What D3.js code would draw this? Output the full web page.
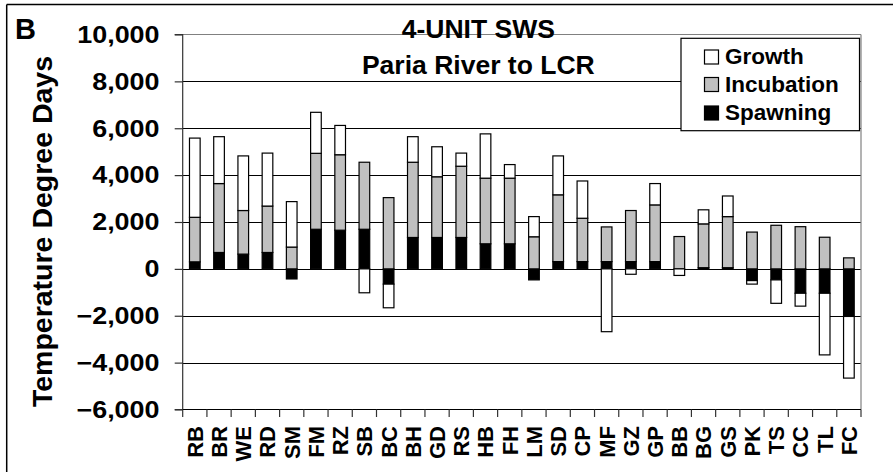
<!DOCTYPE html>
<html>
<head>
<meta charset="utf-8">
<script src="https://cdn.jsdelivr.net/npm/d3@7"></script>
<style>
  html, body { margin: 0; padding: 0; background: #fff; }
  svg { display: block; }
  text { font-family: "Liberation Sans", Arial, sans-serif; font-weight: bold; fill: #000; }
</style>
</head>
<body>
<svg id="chart" width="893" height="472"></svg>
<script>
// ---- data ----
const categories = ["RB","BR","WE","RD","SM","FM","RZ","SB","BC","BH","GD","RS","HB","FH","LM","SD","CP","MF","GZ","GP","BB","BG","GS","PK","TS","CC","TL","FC"];
const spawning   = [300, 700, 630, 700, -430, 1690, 1650, 1690, -650, 1340, 1340, 1340, 1070, 1070, -470, 310, 310, 310, 310, 310, 0, 50, 50, -500, -470, -1040, -1040, -2030];
const incubation = [1900, 2940, 1860, 1980, 930, 3240, 3220, 2860, 3040, 3210, 2590, 3040, 2800, 2800, 1370, 2850, 1850, 1480, 2180, 2420, 1380, 1870, 2180, 1570, 1860, 1800, 1350, 470];
const growth     = [3380, 2000, 2330, 2260, 1940, 1750, 1250, -1020, -1010, 1090, 1280, 560, 1890, 580, 860, 1660, 1590, -2680, -230, 910, -280, 600, 880, -150, -1000, -550, -2630, -2630];
const yTicks = [-6000, -4000, -2000, 0, 2000, 4000, 6000, 8000, 10000];
const seriesKeys = ["spawning", "incubation", "growth"];
const legendLabels = ["Growth", "Incubation", "Spawning"];
const titleLines = ["4-UNIT SWS", "Paria River to LCR"];
const yTitle = "Temperature Degree Days";
const panelLabel = "B";

// ---- layout ----
const L = 182.7, R = 861, T = 34.5, B = 409.5;
const colors = { spawning: "#000000", incubation: "#c0c0c0", growth: "#ffffff" };

const svg = d3.select("#chart");

const table = categories.map((c, i) => ({ cat: c, spawning: spawning[i], incubation: incubation[i], growth: growth[i] }));

const x = d3.scaleBand().domain(categories).range([L, R]).paddingInner(0.56).paddingOuter(0.28);
const y = d3.scaleLinear().domain([-6000, 10000]).range([B, T]);

const stack = d3.stack().keys(seriesKeys).offset(d3.stackOffsetDiverging);
const stacked = stack(table);

// outer frame (top + left)
svg.append("line").attr("x1", 6.7).attr("x2", 893).attr("y1", 4.5).attr("y2", 4.5).attr("stroke", "#000").attr("stroke-width", 1.5);
svg.append("line").attr("x1", 6.7).attr("x2", 6.7).attr("y1", 4.5).attr("y2", 472).attr("stroke", "#000").attr("stroke-width", 1.5);

// gridlines
svg.append("g").selectAll("line")
  .data(yTicks.filter(v => v > -6000 && v < 10000))
  .join("line")
  .attr("x1", L).attr("x2", R)
  .attr("y1", d => Math.round(y(d)) + 0.5).attr("y2", d => Math.round(y(d)) + 0.5)
  .attr("stroke", "#000").attr("stroke-width", 1);

// plot border top/right (gray)
svg.append("line").attr("x1", L).attr("x2", R).attr("y1", T).attr("y2", T).attr("stroke", "#808080").attr("stroke-width", 1.2);
svg.append("line").attr("x1", R).attr("x2", R).attr("y1", T).attr("y2", B).attr("stroke", "#808080").attr("stroke-width", 1.2);

// bars
svg.append("g").selectAll("g")
  .data(stacked)
  .join("g")
  .attr("fill", d => colors[d.key])
  .selectAll("rect")
  .data(d => d)
  .join("rect")
  .attr("x", d => x(d.data.cat))
  .attr("width", x.bandwidth())
  .attr("y", d => y(Math.max(d[0], d[1])))
  .attr("height", d => Math.abs(y(d[0]) - y(d[1])))
  .attr("stroke", "#000").attr("stroke-width", 1.2)
  .style("display", d => (d[1] - d[0]) === 0 ? "none" : null);

// y axis
const yAxis = d3.axisLeft(y).tickValues(yTicks).tickSize(8).tickFormat(d3.format(","));
const gy = svg.append("g").attr("transform", `translate(${L},0)`).call(yAxis);
gy.select(".domain").attr("stroke", "#333").attr("stroke-width", 1.2).attr("d", `M-8,${T}H0V${B}H-8`);
gy.selectAll(".tick line").attr("stroke", "#333").attr("stroke-width", 1.2);
gy.selectAll(".tick text").remove();
// stretched tick labels
const yLab = svg.append("g");
yTicks.forEach(v => {
  yLab.append("text")
    .attr("transform", `translate(159.5,${y(v)}) scale(1.17,1)`)
    .attr("text-anchor", "end")
    .attr("dy", "0.36em")
    .style("font-size", "23px")
    .text(d3.format(",")(v));
});

// x axis
const gx = svg.append("g").attr("transform", `translate(0,${B})`);
gx.append("line").attr("x1", L).attr("x2", R).attr("y1", 0).attr("y2", 0).attr("stroke", "#000").attr("stroke-width", 1.2);
const step = x.step();
gx.selectAll("line.tk")
  .data(d3.range(categories.length + 1))
  .join("line").attr("class", "tk")
  .attr("x1", i => L + i * step).attr("x2", i => L + i * step)
  .attr("y1", 0).attr("y2", 7.5)
  .attr("stroke", "#333").attr("stroke-width", 1.2);
svg.append("g").selectAll("text")
  .data(categories)
  .join("text")
  .attr("transform", d => `translate(${x(d) + x.bandwidth() / 2},426) rotate(-90)`)
  .attr("text-anchor", "end")
  .attr("dy", "0.36em")
  .style("font-size", "22px")
  .text(d => d);

// y axis title
svg.append("text")
  .attr("transform", "translate(51.5,231.5) rotate(-90)")
  .attr("text-anchor", "middle")
  .style("font-size", "28.5px")
  .text(yTitle);

// panel label
svg.append("text").attr("x", 15).attr("y", 39.3).style("font-size", "29px").text(panelLabel);

// title
[38.3, 74.3].forEach((by, i) => {
  svg.append("text")
    .attr("transform", `translate(478.3,${by}) scale(1.04,1)`)
    .attr("text-anchor", "middle")
    .style("font-size", "25.5px")
    .text(titleLines[i]);
});

// legend
const lg = svg.append("g");
lg.append("rect").attr("x", 681).attr("y", 38.3).attr("width", 178.5).attr("height", 92.4)
  .attr("fill", "#fff").attr("stroke", "#000").attr("stroke-width", 1.2);
const legendKeys = ["growth", "incubation", "spawning"];
const rowsSq = [50, 77.5, 106];
const rowsTx = [63.5, 92, 120];
legendLabels.forEach((lab, i) => {
  lg.append("rect").attr("x", 704.5).attr("y", rowsSq[i]).attr("width", 14).attr("height", 14)
    .attr("fill", colors[legendKeys[i]]).attr("stroke", "#000").attr("stroke-width", 1.2);
  lg.append("text").attr("x", 725).attr("y", rowsTx[i]).style("font-size", "22.5px").text(lab);
});
</script>
</body>
</html>
